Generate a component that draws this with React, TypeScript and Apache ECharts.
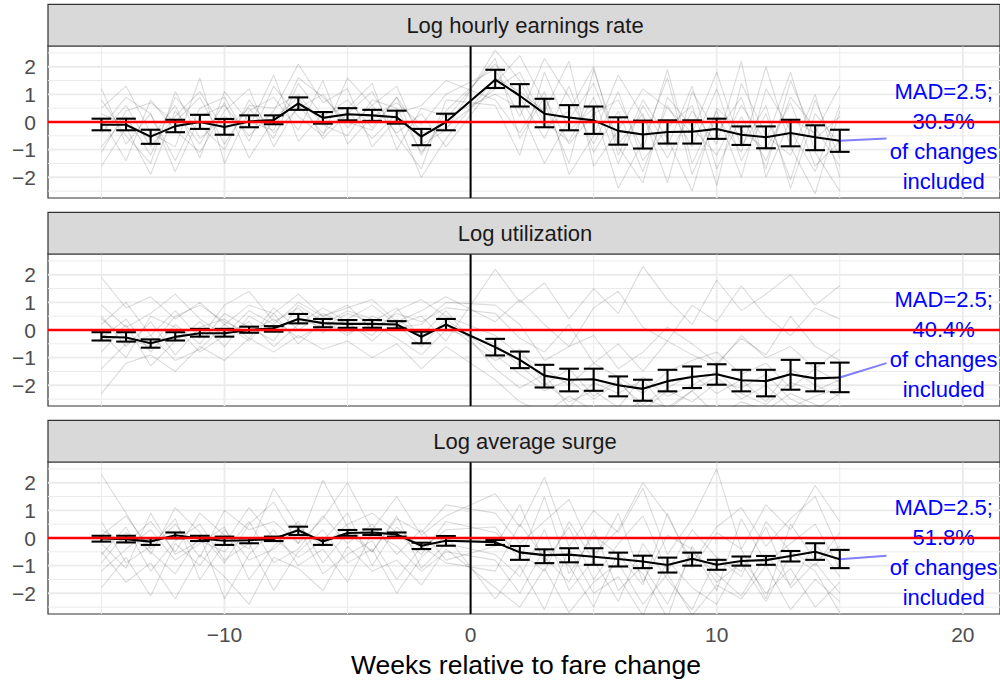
import React, { useEffect, useRef } from "react";
import * as echarts from "echarts";

const FONT = "'Liberation Sans', Arial, Helvetica, sans-serif";

// weeks relative to the fare change (week 0 itself is not observed)
const weeks = [
  -15, -14, -13, -12, -11, -10, -9, -8, -7, -6, -5, -4, -3, -2, -1,
  1, 2, 3, 4, 5, 6, 7, 8, 9, 10, 11, 12, 13, 14, 15,
];

const panelTitles = ["Log hourly earnings rate", "Log utilization", "Log average surge"];
const madValue = "2.5";
const shareIncluded = ["30.5%", "40.4%", "51.8%"];

const yTicks = [-2, -1, 0, 1, 2];
const yMinorGrid = [-2.5, -1.5, -0.5, 0.5, 1.5, 2.5];
const xTicks = [-10, 0, 10, 20];
const xMinorGrid = [-15, -5, 5, 15];

// mean and confidence band per panel
const earningsMean = [-0.1, -0.1, -0.53, -0.15, 0.0, -0.18, 0.02, 0.07, 0.67, 0.15, 0.28, 0.24, 0.17, -0.53, 0.0, 1.53, 0.95, 0.3, 0.16, 0.06, -0.32, -0.45, -0.36, -0.35, -0.25, -0.46, -0.55, -0.4, -0.55, -0.68];
const earningsLow = [-0.3, -0.3, -0.79, -0.37, -0.25, -0.46, -0.19, -0.08, 0.44, -0.06, 0.06, 0.04, -0.06, -0.84, -0.3, 1.23, 0.56, -0.19, -0.3, -0.43, -0.82, -0.96, -0.78, -0.78, -0.61, -0.83, -0.95, -0.88, -1.02, -1.08];
const earningsHigh = [0.12, 0.12, -0.28, 0.08, 0.26, 0.11, 0.24, 0.24, 0.89, 0.36, 0.5, 0.44, 0.41, -0.25, 0.3, 1.89, 1.37, 0.84, 0.61, 0.56, 0.17, 0.05, 0.06, 0.06, 0.12, -0.16, -0.16, 0.08, -0.12, -0.28];

const utilizationMean = [-0.25, -0.27, -0.48, -0.25, -0.12, -0.12, 0.0, 0.06, 0.4, 0.25, 0.22, 0.22, 0.2, -0.25, 0.2, -0.62, -1.08, -1.65, -1.8, -1.78, -2.0, -2.13, -1.85, -1.7, -1.6, -1.82, -1.85, -1.6, -1.75, -1.72];
const utilizationLow = [-0.38, -0.42, -0.64, -0.38, -0.24, -0.24, -0.1, -0.06, 0.24, 0.1, 0.08, 0.08, 0.06, -0.48, 0.0, -0.92, -1.38, -2.08, -2.22, -2.2, -2.4, -2.56, -2.22, -2.1, -1.98, -2.22, -2.4, -2.16, -2.22, -2.25];
const utilizationHigh = [-0.08, -0.08, -0.34, -0.08, 0.04, 0.04, 0.12, 0.14, 0.58, 0.4, 0.36, 0.36, 0.32, -0.06, 0.4, -0.32, -0.78, -1.26, -1.4, -1.4, -1.68, -1.8, -1.44, -1.32, -1.24, -1.44, -1.44, -1.08, -1.2, -1.18];

const surgeMean = [-0.02, -0.04, -0.13, 0.1, -0.02, -0.1, -0.08, -0.03, 0.28, -0.13, 0.18, 0.2, 0.13, -0.28, -0.1, -0.15, -0.52, -0.62, -0.6, -0.68, -0.76, -0.85, -0.98, -0.75, -0.97, -0.83, -0.8, -0.65, -0.5, -0.77];
const surgeLow = [-0.13, -0.16, -0.25, -0.01, -0.11, -0.25, -0.19, -0.11, 0.11, -0.25, 0.08, 0.11, 0.05, -0.4, -0.28, -0.25, -0.79, -0.91, -0.88, -0.97, -1.03, -1.09, -1.25, -1.0, -1.15, -1.0, -0.97, -0.85, -0.79, -1.09];
const surgeHigh = [0.08, 0.08, -0.01, 0.2, 0.08, 0.05, -0.01, 0.05, 0.41, -0.01, 0.29, 0.31, 0.2, -0.17, 0.07, -0.07, -0.29, -0.41, -0.37, -0.37, -0.53, -0.64, -0.71, -0.53, -0.79, -0.67, -0.65, -0.47, -0.19, -0.43];

// a sample of the individual fare changes drawn faintly behind the means
const earningsPaths = [
  [-0.4, 0.6, -0.9, 0.2, 1.1, -0.3, 0.5, -0.6, 1.4, 0.2, 0.8, -0.2, 0.9, -1.2, 0.4, 2.1, 0.9, -0.6, 1.3, -1.1, 0.4, -1.8, 0.6, -0.9, 1.2, -1.4, 0.3, -2.1, 0.8, -1.3],
  [1.2, -0.8, 0.3, -1.4, 0.5, 0.9, -0.7, 1.3, 0.2, -0.5, 1.6, 0.6, -0.4, 0.3, -0.9, 1.4, 2.4, 0.7, -1.5, 1.9, -0.8, 0.3, -2.2, 1.1, -0.4, 0.9, -1.7, 1.5, -0.6, 0.2],
  [-1.6, -0.2, -1.9, 0.4, -0.8, 0.7, -1.3, 0.1, 0.9, -0.6, 0.3, 1.1, -0.5, -1.7, 0.8, 0.6, -1.2, 1.8, -0.3, 0.5, -2.4, -0.7, 1.6, -1.9, 0.2, -1.1, 2.0, -0.9, -2.6, 0.4],
  [0.5, 1.3, -0.4, -0.9, 1.6, -1.5, 0.4, 0.9, -0.3, 1.5, -0.8, 0.2, 0.7, -0.1, 1.0, 1.9, 0.2, 2.3, 0.9, -0.8, 1.1, -1.4, -0.2, 0.6, -2.3, 1.4, -0.5, -1.2, 1.0, -2.0],
  [-0.9, 0.2, -1.2, 0.9, -0.1, -1.0, 0.8, -0.4, 0.5, 1.0, -0.2, 0.6, 1.3, -0.8, -0.3, 2.6, 1.5, -0.2, 0.4, 2.0, -1.2, 0.8, -0.6, -2.5, 0.5, -0.3, -1.0, 0.7, -1.6, -0.7],
  [0.1, -1.4, 0.8, -0.3, -1.1, 0.4, 1.2, -0.9, 0.6, -0.4, 0.4, -0.6, 0.3, 0.6, 1.5, 0.8, -0.4, 1.1, -1.9, -0.5, 1.7, 0.2, -1.3, 0.4, -0.8, 2.2, -2.0, 0.1, -0.4, 1.3],
  [-0.2, 0.9, 0.3, -1.8, 0.2, 0.6, -0.5, 0.4, 2.1, 0.7, 1.2, -0.9, 0.1, -2.0, -0.6, 1.6, 1.1, 0.4, 2.2, -1.6, -0.3, 1.2, 0.5, -0.4, 1.8, -0.9, 0.6, -2.4, 0.3, -0.8],
  [0.8, -0.5, -1.5, 1.1, -0.6, 0.2, -0.2, 1.7, -0.7, 0.3, 0.5, 1.4, -1.0, 0.5, 0.2, 1.0, 0.5, -1.5, 0.1, 1.4, -0.9, -2.2, 0.9, -0.2, -1.2, 0.6, -0.7, 1.8, -1.1, -2.5],
  [-1.1, 0.4, 0.7, 0.0, 0.9, -0.8, 0.6, 0.5, 1.0, -0.1, -0.5, 0.8, 0.5, -1.1, 0.1, 2.3, -0.6, 0.9, -0.8, 0.3, 0.8, -1.0, 1.9, -1.5, 0.4, -2.0, 1.2, -0.3, -1.8, 0.6],
  [0.3, -0.1, -0.6, 0.6, -1.3, 1.1, 0.0, -0.3, 1.6, 0.9, 0.0, -0.3, 0.9, -0.4, -0.2, 1.2, 1.8, 0.0, -0.7, 0.9, -1.5, 0.6, -0.9, 1.3, -1.7, 0.2, -1.4, 0.9, -0.2, -1.6],
];
const utilizationPaths = [
  [-0.3, 0.4, -0.8, 0.2, -0.5, 0.6, 0.1, -0.4, 0.9, 0.3, -0.2, 0.5, 0.2, -0.6, 0.4, -0.9, -1.6, -2.2, -1.8, -2.5, -1.9, -2.7, -2.1, -1.6, -2.3, -1.8, -2.6, -1.4, -2.0, -2.4],
  [1.9, 0.8, 1.2, 0.4, 1.0, 0.2, 0.9, 0.6, 1.3, 0.5, 0.8, 1.1, 0.3, 0.7, 1.2, 0.3, 1.1, 0.2, -0.6, 0.8, 1.4, 0.1, -0.4, 0.9, 0.3, 1.6, 0.5, -0.2, 0.8, 0.4],
  [-2.3, -1.2, -0.9, -1.5, -0.6, -1.1, -0.3, -0.8, -0.2, -0.7, -0.4, -1.0, -0.5, -1.4, -0.6, -1.8, -2.6, -3.0, -2.4, -2.9, -3.2, -2.5, -2.8, -2.2, -3.1, -2.6, -2.9, -2.3, -2.7, -3.0],
  [0.5, -0.6, 0.3, -0.9, 0.1, 0.4, -0.3, 0.8, 0.0, 0.6, 0.2, -0.2, 0.7, 1.1, 0.5, -0.2, -0.9, -1.4, -2.0, -1.2, -1.7, -2.3, -1.5, -1.1, -0.8, -1.6, -1.2, -2.1, -1.4, -1.9],
  [-0.8, 0.2, -1.3, -0.4, 0.3, -0.6, 0.5, 0.0, 0.4, 0.1, 0.6, 0.3, 0.8, -0.3, 0.2, -1.1, -0.7, -1.9, -2.6, -2.2, -2.8, -1.7, -2.4, -2.0, -1.5, -2.3, -2.7, -1.9, -2.2, -1.8],
  [0.2, 1.0, -0.2, 0.7, -0.3, 0.9, 1.4, 0.3, 0.8, -0.1, 0.4, 0.9, 0.2, 0.5, -0.4, 2.2, 1.0, 1.7, 0.4, 1.5, 0.6, 2.3, 1.1, 0.2, 1.8, 0.7, 1.3, 2.0, 0.9, 1.6],
  [-1.4, -0.5, -0.2, -1.1, -0.7, 0.2, -0.4, 0.6, -0.5, 0.3, -0.1, 0.2, -0.3, -0.9, 0.0, -0.5, -1.3, -2.0, -1.4, -2.4, -1.8, -2.9, -2.2, -2.6, -1.9, -2.1, -1.6, -2.5, -2.9, -2.3],
  [0.9, 0.1, 0.6, 1.3, 0.4, -0.2, 0.7, 0.2, 1.0, 0.5, 0.9, 0.0, 0.6, 0.3, 0.8, 0.6, -0.3, -0.8, 0.2, -1.2, -0.5, -1.5, -0.4, -0.9, -1.3, -0.2, -1.0, -0.6, -1.4, -0.7],
  [-0.1, -1.0, 0.5, 0.1, -0.8, -0.2, 0.3, -0.6, 0.2, 0.8, 0.3, -0.4, 0.4, -0.2, 0.7, -1.4, -2.1, -1.6, -2.8, -1.9, -2.3, -1.8, -2.9, -2.2, -1.7, -2.5, -2.0, -2.8, -2.4, -2.1],
  [0.4, -0.3, -0.6, 0.5, 0.9, 0.3, -0.1, 0.4, -0.3, 0.2, 0.7, 0.4, 0.1, 0.2, 1.0, 0.9, 0.2, -1.1, -0.6, -0.2, -1.4, -0.8, 0.1, -0.5, -1.2, -0.3, -0.9, 0.5, -0.6, -1.1],
];
const surgePaths = [
  [-1.2, -0.4, 0.3, -0.8, -0.2, 0.4, -1.5, -0.3, 0.6, -0.9, 0.2, -0.5, 0.8, -1.1, -0.2, -0.6, -1.4, 0.3, -1.9, -0.8, -2.3, -0.2, -1.5, -2.6, -0.7, -1.2, 0.4, -1.8, -0.9, -2.0],
  [2.3, 0.9, -0.6, 1.1, 0.2, -0.9, 0.5, 1.3, -0.2, 0.7, 2.0, 0.3, 1.5, 0.1, 0.8, 1.6, 0.4, 2.2, -0.3, 1.0, 0.2, 1.8, -0.6, 0.7, 2.5, -0.4, 1.2, 0.3, 1.9, 0.6],
  [-0.5, -1.6, -0.9, -2.2, -0.6, -1.4, -2.4, -0.7, -1.1, -1.9, -0.3, -1.2, -0.8, -1.7, -0.4, -1.8, -2.5, -1.1, -2.7, -1.6, -0.9, -2.4, -1.3, -2.8, -1.7, -2.2, -1.0, -2.6, -1.5, -2.3],
  [0.3, -0.2, 0.6, -0.5, 0.9, 0.1, -0.4, 1.8, 0.4, -0.3, 0.5, 0.9, 0.2, -0.6, 0.6, 0.2, -0.5, -1.2, 0.6, -0.8, 0.9, -1.6, 0.1, -0.4, -1.9, 0.7, -0.9, -0.2, 0.5, -1.1],
  [-1.8, -0.7, -2.1, -0.2, -1.0, 0.3, -0.8, -0.4, 0.4, -1.3, -0.6, -0.1, -1.5, -0.3, -0.9, -1.2, 0.5, -0.7, -1.6, 0.3, -1.9, -1.0, -2.4, -0.5, -1.3, -2.1, -0.6, -1.7, -0.2, -1.4],
  [0.1, 0.8, -0.4, 0.5, -0.7, 1.0, 0.3, 0.6, -0.2, 2.1, 0.4, -0.5, 0.7, 0.2, 1.2, 0.9, -0.2, 0.6, 1.4, -0.6, 0.3, 2.0, 0.8, -0.9, 0.4, 1.1, -0.3, 0.7, 1.5, -0.5],
  [-0.6, 0.4, -1.2, -0.1, 0.5, -0.8, -0.2, -1.9, -0.5, 0.3, -0.9, -0.4, -2.0, -0.7, 0.1, -2.2, -1.0, -2.6, -0.4, -2.0, -1.4, -2.8, -0.8, -1.8, -2.4, -0.7, -2.0, -1.1, -2.5, -1.6],
  [-0.2, -1.1, 0.9, -0.6, -0.1, -0.5, 0.6, -0.9, -0.4, 0.8, -0.2, 0.5, -0.6, 0.3, -0.8, -0.3, 1.2, -0.9, 0.4, -1.5, -0.2, 0.8, -1.2, 0.3, -0.7, -1.4, 0.6, -0.5, -1.0, 0.2],
  [0.6, -0.9, -0.3, 0.7, -1.5, -0.2, 1.1, 0.0, -0.7, -0.1, 0.9, -1.0, 0.4, -0.4, 0.3, 0.4, -0.8, 1.5, -1.3, 0.1, -0.6, -1.7, 0.9, -1.1, 0.2, -0.4, -2.2, 0.5, -0.8, -0.3],
  [-0.9, 0.2, -0.5, -1.3, 0.1, -2.2, -0.6, 0.3, -1.0, -0.4, -1.6, 0.2, -0.3, -1.2, -0.5, -0.8, -2.0, -0.4, -1.0, -2.5, -0.5, -1.3, -2.9, -0.3, -1.6, -0.9, -2.3, -0.6, -1.2, -2.7],
];

// label callout: from the last mean to this point
const calloutX = 16.9;
const calloutY = [-0.6, -1.2, -0.64];
const labelX = 19.22;
const labelY = -0.53;

const panels = [
  { mean: earningsMean, low: earningsLow, high: earningsHigh, paths: earningsPaths },
  { mean: utilizationMean, low: utilizationLow, high: utilizationHigh, paths: utilizationPaths },
  { mean: surgeMean, low: surgeLow, high: surgeHigh, paths: surgePaths },
];

const GRID_LEFT = 48;
const GRID_TOPS = [46, 254, 462];
const GRID_H = 152;
const STRIP_H = 41.7;
const X_MIN = -17.17;
const X_MAX = 21.51;

const minus = (v: number) => String(v).replace("-", "\u2212");

const App = () => {
  const chartRef = useRef<HTMLDivElement>(null);

  useEffect(() => {
    const chart = echarts.init(chartRef.current, null, { renderer: "svg" });

    const grids: any[] = [];
    const xAxes: any[] = [];
    const yAxes: any[] = [];
    const series: any[] = [];
    const graphics: any[] = [];

    panels.forEach((p, i) => {
      const last = i === panels.length - 1;
      grids.push({
        left: GRID_LEFT,
        right: 0,
        top: GRID_TOPS[i],
        height: GRID_H,
        show: true,
        backgroundColor: "#FFFFFF",
        borderColor: "#333333",
        borderWidth: 1.2,
        outerBoundsMode: "none",
      });
      xAxes.push({
        type: "value",
        gridIndex: i,
        min: X_MIN,
        max: X_MAX,
        axisLine: { show: false },
        splitLine: { show: false },
        axisTick: {
          show: last,
          customValues: xTicks,
          length: 6,
          lineStyle: { color: "#333333", width: 1.2 },
        },
        axisLabel: {
          show: last,
          customValues: xTicks,
          formatter: (v: number) => minus(v),
          color: "#4D4D4D",
          fontSize: 21,
          fontFamily: FONT,
          margin: 10,
        },
      });
      yAxes.push({
        type: "value",
        gridIndex: i,
        min: -2.75,
        max: 2.75,
        axisLine: { show: false },
        splitLine: { show: false },
        axisTick: {
          show: true,
          customValues: yTicks,
          length: 6,
          lineStyle: { color: "#333333", width: 1.2 },
        },
        axisLabel: {
          customValues: yTicks,
          formatter: (v: number) => minus(v),
          color: "#4D4D4D",
          fontSize: 21,
          fontFamily: FONT,
          margin: 12,
        },
      });

      // panel grid lines
      series.push({
        type: "custom",
        xAxisIndex: i,
        yAxisIndex: i,
        z: 1,
        silent: true,
        data: [[0, 0]],
        renderItem: (params: any, api: any) => {
          const cs = params.coordSys;
          const children: any[] = [];
          const hLine = (v: number, w: number) => {
            const y = api.coord([0, v])[1];
            children.push({
              type: "line",
              shape: { x1: cs.x, y1: y, x2: cs.x + cs.width, y2: y },
              style: { stroke: "#EBEBEB", lineWidth: w },
            });
          };
          const vLine = (v: number, w: number) => {
            const x = api.coord([v, 0])[0];
            children.push({
              type: "line",
              shape: { x1: x, y1: cs.y, x2: x, y2: cs.y + cs.height },
              style: { stroke: "#EBEBEB", lineWidth: w },
            });
          };
          yMinorGrid.forEach((v) => hLine(v, 1));
          xMinorGrid.forEach((v) => vLine(v, 1));
          yTicks.forEach((v) => hLine(v, 1.8));
          xTicks.forEach((v) => vLine(v, 1.8));
          return { type: "group", children };
        },
      });

      // individual changes
      p.paths.forEach((path) => {
        series.push({
          type: "line",
          xAxisIndex: i,
          yAxisIndex: i,
          z: 2,
          silent: true,
          symbol: "none",
          clip: true,
          data: weeks.map((w, k) => [w, path[k]]),
          lineStyle: { color: "rgba(0,0,0,0.14)", width: 1.1 },
        });
      });

      // vertical line at the fare change
      series.push({
        type: "custom",
        xAxisIndex: i,
        yAxisIndex: i,
        z: 3,
        silent: true,
        data: [[0, 0]],
        renderItem: (params: any, api: any) => {
          const cs = params.coordSys;
          const x = api.coord([0, 0])[0];
          return {
            type: "line",
            shape: { x1: x, y1: cs.y, x2: x, y2: cs.y + cs.height },
            style: { stroke: "#000000", lineWidth: 2 },
          };
        },
      });

      // mean line
      series.push({
        type: "line",
        xAxisIndex: i,
        yAxisIndex: i,
        z: 4,
        silent: true,
        symbol: "none",
        data: weeks.map((w, k) => [w, p.mean[k]]),
        lineStyle: { color: "#000000", width: 2.1 },
      });

      // error bars
      series.push({
        type: "custom",
        xAxisIndex: i,
        yAxisIndex: i,
        z: 4,
        silent: true,
        encode: { x: 0, y: [1, 2] },
        data: weeks.map((w, k) => [w, p.low[k], p.high[k]]),
        renderItem: (params: any, api: any) => {
          const x = api.value(0);
          const lo = api.coord([x, api.value(1)]);
          const hi = api.coord([x, api.value(2)]);
          const half = api.size([0.8, 0])[0] / 2;
          const style = { stroke: "#000000", lineWidth: 2.1 };
          return {
            type: "group",
            children: [
              { type: "line", shape: { x1: lo[0], y1: lo[1], x2: hi[0], y2: hi[1] }, style },
              { type: "line", shape: { x1: lo[0] - half, y1: lo[1], x2: lo[0] + half, y2: lo[1] }, style },
              { type: "line", shape: { x1: hi[0] - half, y1: hi[1], x2: hi[0] + half, y2: hi[1] }, style },
            ],
          };
        },
      });

      // callout segment
      series.push({
        type: "line",
        xAxisIndex: i,
        yAxisIndex: i,
        z: 4,
        silent: true,
        symbol: "none",
        data: [
          [weeks[weeks.length - 1], p.mean[p.mean.length - 1]],
          [calloutX, calloutY[i]],
        ],
        lineStyle: { color: "rgba(0,0,255,0.5)", width: 2 },
      });

      // label
      series.push({
        type: "custom",
        xAxisIndex: i,
        yAxisIndex: i,
        z: 5,
        silent: true,
        data: [[labelX, labelY]],
        renderItem: (params: any, api: any) => {
          const pt = api.coord([api.value(0), api.value(1)]);
          return {
            type: "text",
            x: pt[0],
            y: pt[1],
            style: {
              text: `MAD=${madValue};\n${shareIncluded[i]}\nof changes\nincluded`,
              fill: "#0000FF",
              fontSize: 22,
              fontFamily: FONT,
              align: "center",
              verticalAlign: "middle",
              lineHeight: 29.8,
            },
          };
        },
      });

      // zero reference line
      series.push({
        type: "custom",
        xAxisIndex: i,
        yAxisIndex: i,
        z: 6,
        silent: true,
        data: [[0, 0]],
        renderItem: (params: any, api: any) => {
          const cs = params.coordSys;
          const y = api.coord([0, 0])[1];
          return {
            type: "line",
            shape: { x1: cs.x, y1: y, x2: cs.x + cs.width, y2: y },
            style: { stroke: "#FF0000", lineWidth: 2.3 },
          };
        },
      });

      // facet strip
      graphics.push({
        type: "rect",
        shape: { x: GRID_LEFT, y: GRID_TOPS[i] - STRIP_H, width: 1000 - GRID_LEFT, height: STRIP_H },
        style: { fill: "#D9D9D9", stroke: "#333333", lineWidth: 1.2 },
        z: 10,
      });
      graphics.push({
        type: "text",
        x: (GRID_LEFT + 1000) / 2 + 1,
        y: GRID_TOPS[i] - STRIP_H / 2,
        style: {
          text: panelTitles[i],
          fill: "#1A1A1A",
          fontSize: 22,
          fontFamily: FONT,
          align: "center",
          verticalAlign: "middle",
        },
        z: 11,
      });
    });

    graphics.push({
      type: "text",
      x: (GRID_LEFT + 1000) / 2 + 2,
      y: 665,
      style: {
        text: "Weeks relative to fare change",
        fill: "#000000",
        fontSize: 26.5,
        fontFamily: FONT,
        align: "center",
        verticalAlign: "middle",
      },
    });

    chart.setOption({
      animation: false,
      backgroundColor: "#FFFFFF",
      textStyle: { fontFamily: FONT },
      grid: grids,
      xAxis: xAxes,
      yAxis: yAxes,
      series,
      graphic: graphics,
    });

    return () => {
      chart.dispose();
    };
  }, []);

  return (
    <div
      ref={chartRef}
      style={{ position: "fixed", left: 0, top: 0, width: 1000, height: 683 }}
    />
  );
};

export default App;
